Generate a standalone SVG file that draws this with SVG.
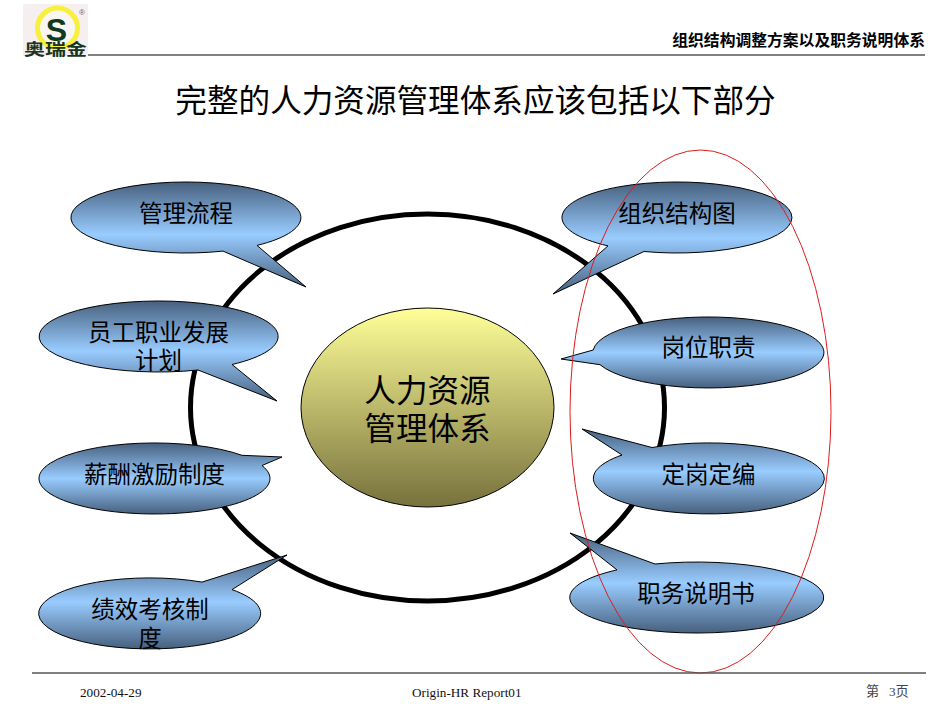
<svg xmlns="http://www.w3.org/2000/svg" width="950" height="713" viewBox="0 0 950 713">
<style>
.cjk{font-family:"Noto Sans CJK SC","Liberation Sans",sans-serif;fill:#000}
.lbl{font-size:23.500px;text-anchor:middle}
.big{font-size:31.600px;text-anchor:middle}
.ser{font-family:"Liberation Serif","Noto Sans CJK SC",serif;font-size:13.200px;fill:#111}
.call{fill:url(#blue);stroke:#000;stroke-width:1}
</style>
<defs>
<linearGradient id="blue" x1="0" y1="0" x2="0" y2="1">
<stop offset="0" stop-color="#47607e"/><stop offset="0.5" stop-color="#99ccff"/><stop offset="1" stop-color="#47607e"/>
</linearGradient>
<linearGradient id="olive" x1="0" y1="0" x2="0" y2="1">
<stop offset="0" stop-color="#ffff99"/><stop offset="1" stop-color="#77713c"/>
</linearGradient>
</defs>
<rect width="950" height="713" fill="#fff"/>
<g id="logo">
<rect x="23" y="4" width="65" height="52" fill="#f6eff0"/>
<circle cx="57.500" cy="28" r="20" fill="#fbf6f4" stroke="#f7f03c" stroke-width="5"/>
<text x="56.500" y="41" font-family="Liberation Sans,sans-serif" font-weight="bold" font-size="32" text-anchor="middle" fill="#0f3a20">S</text>
<text transform="translate(55.500 54.500) scale(1 0.750)" class="cjk" font-size="21" font-weight="bold" text-anchor="middle" style="fill:#17351f">奥瑞金</text>
<text x="82" y="14.500" font-family="Liberation Sans,sans-serif" font-size="8" text-anchor="middle" fill="#666">®</text>
</g>
<g id="header">
<line x1="88" y1="55" x2="925" y2="55" stroke="#000" stroke-width="1"/>
<text x="925" y="46" class="cjk" font-size="15.800" font-weight="bold" text-anchor="end">组织结构调整方案以及职务说明体系</text>
</g>
<text id="title" x="475.500" y="112" class="cjk big">完整的人力资源管理体系应该包括以下部分</text>
<ellipse id="ring" cx="427.500" cy="407.500" rx="237" ry="193.500" fill="none" stroke="#000" stroke-width="5"/>
<g id="centre">
<ellipse cx="427.500" cy="407.500" rx="126.500" ry="99.500" fill="url(#olive)" stroke="#000" stroke-width="1"/>
<text x="427.500" y="402" class="cjk big">人力资源</text>
<text x="427.500" y="440" class="cjk big">管理体系</text>
</g>
<g id="n-liucheng">
<path class="call" d="M223 251.100L306 287L257 245.400A115 35.500 0 1 0 223 251.100Z"/>
<text x="186" y="222" class="cjk lbl">管理流程</text>
</g>
<g id="n-zhiye">
<path class="call" d="M198 370L277 401L232 364.500A119.500 35.500 0 1 0 198 370Z"/>
<text x="158.500" y="341" class="cjk lbl">员工职业发展</text>
<text x="158.500" y="369" class="cjk lbl">计划</text>
</g>
<g id="n-xinchou">
<path class="call" d="M242 455.300L282 457L262 465.500A115.500 35.500 0 1 1 242 455.300Z"/>
<text x="154.500" y="483" class="cjk lbl">薪酬激励制度</text>
</g>
<g id="n-jixiao">
<path class="call" d="M202 582.100L287 555L232 589.600A111 35.500 0 1 1 202 582.100Z"/>
<text x="150" y="618" class="cjk lbl">绩效考核制</text>
<text x="150" y="647" class="cjk lbl">度</text>
</g>
<g id="n-zuzhi">
<path class="call" d="M644 251.500L553 294L608 245.900A115 35.500 0 1 1 644 251.500Z"/>
<text x="677" y="222" class="cjk lbl">组织结构图</text>
</g>
<g id="n-gangwei">
<path class="call" d="M600 364.700L561 359L593.200 350A115.500 35.500 0 1 1 600 364.700Z"/>
<text x="708.500" y="356" class="cjk lbl">岗位职责</text>
</g>
<g id="n-dinggang">
<path class="call" d="M652 447.500L582 429L622 455A115.500 35.500 0 1 0 652 447.500Z"/>
<text x="708.500" y="483" class="cjk lbl">定岗定编</text>
</g>
<g id="n-zhiwu">
<path class="call" d="M655 564L570 533L617 569.900A127 35.500 0 1 0 655 564Z"/>
<text x="696" y="602" class="cjk lbl">职务说明书</text>
</g>
<ellipse id="highlight" cx="700.500" cy="411.500" rx="130.500" ry="261.500" fill="none" stroke="#dd1c1c" stroke-width="1"/>
<g id="footer">
<line x1="32" y1="673" x2="926" y2="673" stroke="#555" stroke-width="1.500"/>
<text x="80" y="697" class="ser">2002-04-29</text>
<text x="412" y="697" class="ser">Origin-HR Report01</text>
<text x="866" y="696" class="ser" font-size="13" style="fill:#444">第</text>
<text x="889" y="696" class="ser" style="fill:#444">3页</text>
</g>
</svg>
